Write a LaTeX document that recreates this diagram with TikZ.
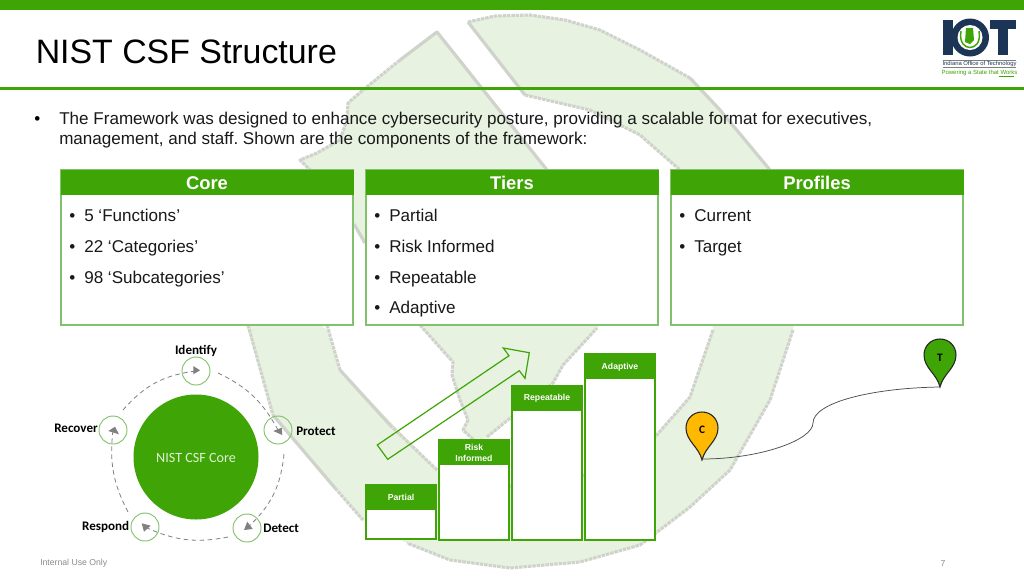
\documentclass[tikz,border=0pt]{standalone}
\usepackage{fontspec}
\setmainfont{Liberation Sans}
\newfontfamily\carl{Carlito}
\usetikzlibrary{arrows.meta}
\definecolor{gr}{HTML}{3FA405}
\definecolor{bd}{HTML}{82C26C}
\definecolor{wmf}{HTML}{E7F2E0}
\definecolor{wme}{HTML}{CFD3CB}
\definecolor{navy}{HTML}{1C3557}
\definecolor{amber}{HTML}{FFB900}
\newcommand{\px}[1]{\fontsize{#1}{#1}\selectfont}
\frenchspacing
\tikzset{
  x=0.75pt,y=-0.75pt,
  wmfill/.style={fill=wmf,draw=none},
  wmedge/.style={draw=wme,line width=2.3pt,dash pattern=on 2.6pt off 0.7pt,line join=round},
  wmline/.style={draw=wme,line width=2.4pt,line join=round},
  hdr/.style={text=white,font=\bfseries\px{13.8},inner sep=0pt},
  panel/.style={draw=bd,line width=1.1pt,fill=white},
  bl/.style={anchor=base west,inner sep=0pt,font=\px{12.8},text=black!90},
  barbox/.style={draw=gr,line width=0.8pt,fill=white},
  barhead/.style={fill=gr,draw=gr,line width=0.8pt},
  barlabel/.style={text=white,font=\bfseries\px{6.5},align=center,inner sep=0pt,text width=50pt},
  small/.style={circle,draw=bd,line width=0.7pt,minimum size=21pt,inner sep=0pt},
  flow/.style={draw=black!50,line width=0.6pt,dash pattern=on 3.4pt off 2.6pt},
  headtri/.style={fill=black!50,draw=none},
  cyc/.style={font=\carl\bfseries\px{9.8},text=black,inner sep=0pt},
  pin/.style={draw=black!85,line width=0.8pt},
}
\begin{document}
\begin{tikzpicture}
\useasboundingbox (0,0) rectangle (1024,576);
\fill[white] (0,0) rectangle (1024,576);
% watermark
\path[wmfill] (468,22)--(495,16)--(530,15)--(565,20)--(600,30)--(640,50)--(690,78)--(720,110)--(770,170)--(790,230)--(800,280)--(793,330)--(770,400)--(730,470)--(690,507)--(640,545)--(580,562)--(510,568)--(450,560)--(407,543)--(363,520)--(273,415)--(248,330)--(245,320)--(315,320)--(327,330)--(340,370)--(437,470)--(465,485)--(510,488)--(583,477)--(655,437)--(690,397)--(713,330)--(705,240)--(680,170)--(640,135)--(590,110)--(525,95)--cycle;
\path[wmfill] (437,32)--(547,170)--(640,290)--(597,328)--(563,365)--(553,383)--(487,437)--(475,441)--(463,430)--(468,420)--(460,400)--(452,375)--(453,362)--(420,325)--(365,243)--(354,224)--(310,170)--(300,160)--(317,153)--(340,140)--(347,120)--(348,103)--(363,90)--(400,60)--cycle;
\draw[wmedge] (468,22)--(495,16)--(530,15)--(565,20)--(600,30)--(640,50)--(690,78);
\draw[wmline] (690,78)--(720,110)--(770,170);
\draw[wmedge] (713,330)--(690,397)--(655,437);
\draw[wmedge] (793,330)--(770,400)--(730,470)--(690,507)--(640,545)--(580,562)--(510,568)--(450,560)--(407,543);
\draw[wmline] (468,22)--(525,95);
\draw[wmedge] (525,95)--(590,110)--(640,135)--(680,170);
\draw[wmedge] (248,325)--(273,415);
\draw[wmline] (273,415)--(335,488);
\draw[wmedge] (335,488)--(363,520);
\draw[wmedge] (327,325)--(340,370);
\draw[wmline] (340,370)--(390,425);
\draw[wmedge] (390,425)--(437,470);
\draw[wmedge] (510,488)--(512,484) (583,477)--(585,474);
\draw[wmedge] (400,60)--(363,90)--(348,103)--(347,120)--(340,140)--(317,153)--(300,160)--(310,170);
\draw[wmline] (400,60)--(437,32)--(547,170);
\draw[wmline] (354,224)--(365,243);
\draw[wmedge] (420,325)--(453,362)--(452,375)--(460,400)--(468,420)--(463,430)--(475,441);
\draw[wmedge] (487,437)--(553,383)--(563,365)--(597,328);
% top
\fill[gr] (0,0) rectangle (1024,10);
\fill[gr] (0,87) rectangle (1024,89.5);
\node[anchor=base west,inner sep=0pt,font=\px{25.4},text=black] (title) at (35.5,63) {NIST CSF Structure};
\node[anchor=base west,inner sep=0pt,font=\px{12.8}] (bull) at (34,124) {•};
\node[anchor=base west,inner sep=0pt,font=\px{12.8},text=black!90] (l1) at (59,124) {The Framework was designed to enhance cybersecurity posture, providing a scalable format for executives,};
\node[anchor=base west,inner sep=0pt,font=\px{12.8},text=black!90] (l2) at (59,144.5) {management, and staff. Shown are the components of the framework:};
% logo
\fill[navy] (943,20) rectangle (953,55);
\fill[navy] (970,37.5) circle (19);
\fill[white] (970,37.5) circle (12.5);
\draw[gr,line width=1.1pt] (961,31) .. controls (959,43) and (965,47.5) .. (970,47.5) .. controls (975,47.5) and (981,43) .. (979,31);
\fill[gr] (966,28)--(973,28)--(974,40)--(970,44)--(965,42)--cycle;
\fill[navy] (990,20) rectangle (1016,29);
\fill[navy] (998,20) rectangle (1008,55);
\draw[black!50,line width=0.4pt] (943,60)--(1016,60) (943,67.5)--(1016,67.5);
\node[inner sep=0pt,font=\px{4.4},text=navy] (lg1) at (979.5,64) {Indiana Office of Technology};
\node[inner sep=0pt,font=\px{4.5},text=gr] (lg2) at (979.5,73) {Powering a State that Works};
\draw[gr,line width=0.4pt] (999,76.5)--(1014,76.5);
% panels
\foreach \xa/\nm/\tt in {61/a/Core,366/b/Tiers,671/c/Profiles}{
  \path[panel] (\xa,170) rectangle (\xa+292,325);
  \fill[gr] (\xa-0.5,170) rectangle (\xa+292.5,195);
  \node[hdr] (h\nm) at (\xa+146,183) {\tt};
}
\foreach \xa/\yy/\tt [count=\i] in {
 84/221/{5 ‘Functions’},84/252/{22 ‘Categories’},84/283/{98 ‘Subcategories’},
 389/221/{Partial},389/252/{Risk Informed},389/283/{Repeatable},389/313.5/{Adaptive},
 694/221/{Current},694/252/{Target}}{
  \node[bl] (t\i) at (\xa,\yy) {\tt};
  \node[bl] (d\i) at (\xa-15,\yy) {•};
}
% cycle
\fill[gr] (196,457) circle (62.5);
\node[inner sep=0pt,font=\carl\px{10.6},text=white!85!gr] (core) at (196,457.5) {NIST CSF Core};
\node[small] (id) at (196,371) {};
\node[small] (pr) at (278,430) {};
\node[small] (de) at (247,528) {};
\node[small] (re) at (145,527) {};
\node[small] (rc) at (113,430) {};
\coordinate (s1) at (123,410);
\coordinate (s2) at (218,373);
\coordinate (s3) at (284,454);
\coordinate (s4) at (228,537);
\coordinate (s5) at (128,512);
\draw[flow] (s1) to[bend left=21] (id.center);
\draw[flow] (s2) to[bend left=18] (pr.center);
\draw[flow] (s3) to[bend left=21] (de.center);
\draw[flow] (s4) to[bend left=18] (re.center);
\draw[flow] (s5) to[bend left=17] (rc.center);
\fill[headtri] (193.3,366)--(193.3,374.3)--(200,370.3)--cycle;
\fill[headtri] (273.3,431)--(281.7,427.7)--(282.3,435)--cycle;
\fill[headtri] (108.3,431)--(115,426.7)--(119,434.3)--cycle;
\fill[headtri] (247.3,521.7)--(244,530)--(252.7,529)--cycle;
\fill[headtri] (141.7,523.3)--(150.7,525.7)--(144,531.7)--cycle;
\node[cyc] (lid) at (196,351) {Identify};
\node[cyc,anchor=west] (lpr) at (296,431.5) {Protect};
\node[cyc,anchor=west] (lde) at (263,528.5) {Detect};
\node[cyc,anchor=east] (lre) at (129.5,527) {Respond};
\node[cyc,anchor=east] (lrc) at (98,428.5) {Recover};
% bars
\foreach \xa/\ya/\yb/\ty/\nm/\tt in {366/485/539/497/p/Partial,439/440/540/453/r/{Risk\\[1.2pt]Informed},512/386/540/398.5/q/Repeatable,585/354/540/367/s/Adaptive}{
  \path[barbox] (\xa,\ya) rectangle (\xa+70,\yb);
  \path[barhead] (\xa,\ya) rectangle (\xa+70,\ya+24);
  \node[barlabel] (b\nm) at (\xa+35,\ty) {\tt};
}
\draw[gr,line width=0.9pt,line join=miter] (377.3,445)--(387.7,459.3)--(519.3,370.7)--(525,378.3)--(529.3,352.7)--(503.3,348)--(509,355.7)--cycle;
% pins
\coordinate (ctip) at (702,460);
\coordinate (ttip) at (940,387);
\draw[pin,fill=amber] (ctip) .. controls (699,447) and (686,441) .. (686,428) .. controls (686,419) and (693,412) .. (702,412) .. controls (711,412) and (718,419) .. (718,428) .. controls (718,441) and (705,447) .. (ctip) -- cycle;
\draw[pin,fill=gr] (ttip) .. controls (937,374) and (924,368) .. (924,355) .. controls (924,346) and (931,339) .. (940,339) .. controls (949,339) and (956,346) .. (956,355) .. controls (956,368) and (943,374) .. (ttip) -- cycle;
\node[inner sep=0pt,font=\carl\bfseries\px{8.5}] (cl) at (702,430) {C};
\node[inner sep=0pt,font=\carl\bfseries\px{8.5}] (tl) at (940,358) {T};
\draw[black!70,line width=0.55pt] (ctip) ++(0,-1) .. controls (760,459) and (813,440) .. (813,423) .. controls (813,403) and (870,388) .. (ttip);
% footer
\node[anchor=west,inner sep=0pt,font=\px{6.5},text=black!45] (foot) at (40,563.5) {Internal Use Only};
\node[inner sep=0pt,font=\px{6.5},text=black!45] (pg) at (943,563.5) {7};
\end{tikzpicture}
\end{document}
